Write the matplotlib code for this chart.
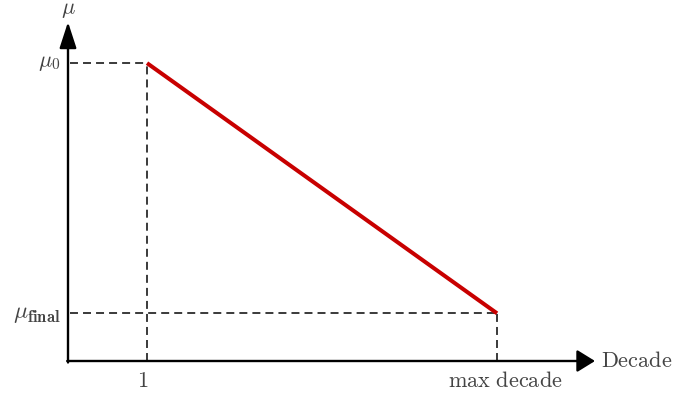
import matplotlib
matplotlib.use("Agg")
import matplotlib.pyplot as plt

plt.rcParams['mathtext.fontset'] = 'cm'

# Data (schematic units)
decades = [1.0, 5.43]          # x: first decade, max decade
mu_values = [1.0, 0.16]         # y: mu_0, mu_final
x_tick_labels = [r'$1$', r'$\mathrm{max\ decade}$']
y_tick_labels = [r'$\mu_0$', r'$\mu_{\mathbf{final}}$']
x_axis_label = r'$\mathrm{Decade}$'
y_axis_label = r'$\mu$'

xmax, ymax = 6.67, 1.138

fig = plt.figure(figsize=(6.82, 3.99), dpi=100)
ax = fig.add_axes([68/682, (399-361)/399, (595-68)/682, (361-22)/399])
ax.set_xlim(0, xmax)
ax.set_ylim(0, ymax)
ax.axis('off')

text_color = '#444444'
dash_color = '#3a3a3a'
fs = 16

# Axes with arrows
ax.annotate('', xy=(xmax, 0), xytext=(-0.01, 0),
            arrowprops=dict(arrowstyle='-|>,head_length=0.55,head_width=0.34',
                            lw=1.7, color='black', shrinkA=0, shrinkB=0,
                            mutation_scale=20),
            annotation_clip=False)
ax.annotate('', xy=(0, ymax), xytext=(0, -0.005),
            arrowprops=dict(arrowstyle='-|>,head_length=0.8,head_width=0.26',
                            lw=1.7, color='black', shrinkA=0, shrinkB=0,
                            mutation_scale=20),
            annotation_clip=False)

# Dashed guide lines
for xv, yv in zip(decades, mu_values):
    ax.plot([0.03, xv], [yv, yv], ls=(0, (4.1, 2.6)), color=dash_color, lw=1.4)
    ax.plot([xv, xv], [0, yv], ls=(0, (4.1, 2.6)), color=dash_color, lw=1.4)

# Main line
ax.plot(decades, mu_values, color='#c80000', lw=2.9, solid_capstyle='butt')

# Tick labels
ax.text(decades[0] - 0.05, -0.067, x_tick_labels[0], ha='center', va='center',
        fontsize=fs, color=text_color)
ax.text(decades[1] + 0.1, -0.067, x_tick_labels[1], ha='center', va='center',
        fontsize=fs, color=text_color)
ax.text(-0.1, mu_values[0], y_tick_labels[0], ha='right', va='center',
        fontsize=fs, color=text_color)
ax.text(-0.1, mu_values[1], y_tick_labels[1], ha='right', va='center',
        fontsize=fs + 1, color=text_color)

# Axis labels
ax.text(xmax + 0.08, 0, x_axis_label, ha='left', va='center',
        fontsize=fs, color=text_color)
ax.text(0, 1.178, y_axis_label, ha='center', va='center',
        fontsize=fs, color=text_color)

fig.savefig('out.png', dpi=100)
